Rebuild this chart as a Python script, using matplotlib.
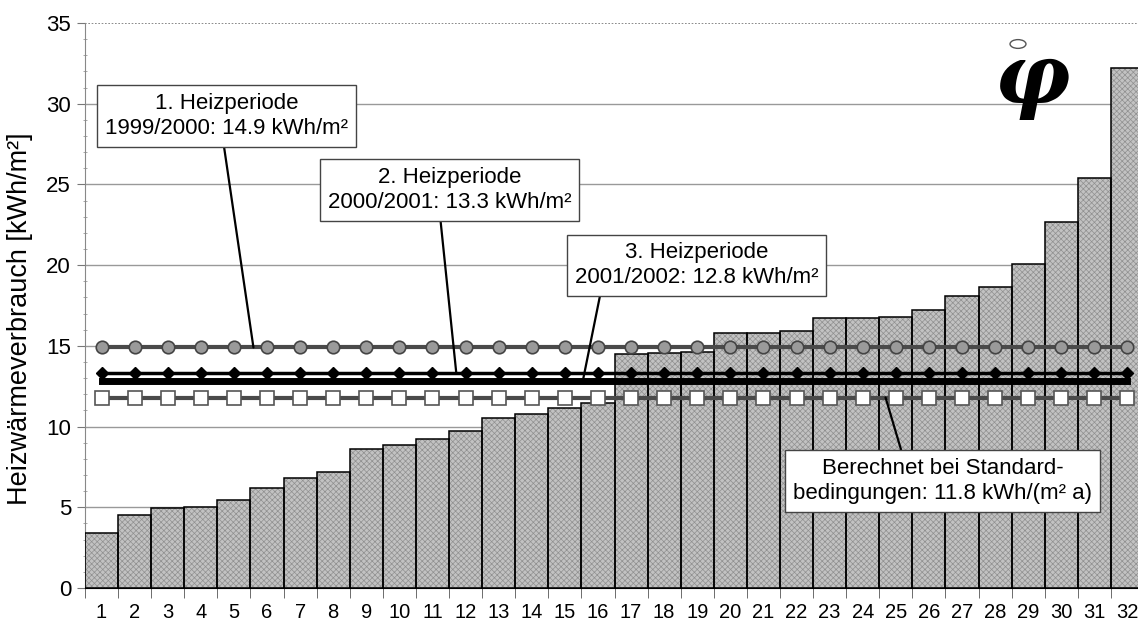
import matplotlib
matplotlib.use("Agg")
import matplotlib.pyplot as plt
from matplotlib.patches import Circle
import numpy as np

plt.rcParams['font.family'] = ['Liberation Sans', 'DejaVu Sans']
plt.rcParams['hatch.linewidth'] = 0.5

categories = list(range(1, 33))
consumption = [3.4, 4.5, 4.95, 5.0, 5.45, 6.2, 6.8, 7.2, 8.6, 8.85, 9.2, 9.7,
               10.55, 10.75, 11.15, 11.45, 14.5, 14.55, 14.6, 15.8, 15.8, 15.95,
               16.7, 16.7, 16.8, 17.2, 18.1, 18.65, 20.1, 22.65, 25.4, 32.2]
period1 = 14.9
period2 = 13.3
period3 = 12.8
standard = 11.8
y_label = "Heizwärmeverbrauch [kWh/m²]"
box_texts = ["1. Heizperiode\n1999/2000: 14.9 kWh/m²",
             "2. Heizperiode\n2000/2001: 13.3 kWh/m²",
             "3. Heizperiode\n2001/2002: 12.8 kWh/m²",
             "Berechnet bei Standard-\nbedingungen: 11.8 kWh/(m² a)"]

fig = plt.figure(figsize=(11.38, 6.25), dpi=100)
ax = fig.add_axes([85/1138, 37/625, (1144-85)/1138, 565/625])

x = np.array(categories)
# bars: textured fill then black outline
ax.bar(x, consumption, width=1.0, color='#c2c2c2', edgecolor='#909090',
       hatch='xxxxxx', linewidth=0, zorder=2)
ax.bar(x, consumption, width=1.0, fill=False, edgecolor='black', linewidth=1.1, zorder=3)

n = len(categories)
ax.plot(x, [period1]*n, color='#4a4a4a', lw=3, marker='o', ms=9,
        mfc='#9a9a9a', mec='#444444', mew=1.2, zorder=5)
ax.plot(x, [period2]*n, color='black', lw=2.5, marker='D', ms=6.5,
        mfc='black', mec='black', zorder=5)
ax.plot(x, [period3]*n, color='black', lw=5, zorder=5)
ax.plot(x, [standard]*n, color='#4a4a4a', lw=3, marker='s', ms=10,
        mfc='white', mec='#555555', mew=1.2, zorder=5)

ax.set_xlim(0.5, 32.5)
ax.set_ylim(0, 35)
ax.set_yticks(np.arange(0, 36, 5))
ax.set_yticks(np.arange(0, 36, 1), minor=True)
ax.set_xticks(x)
ax.set_xticklabels([str(c) for c in categories], fontsize=14.5)
ax.set_xticks(np.arange(0.5, 33, 1), minor=True)
ax.tick_params(axis='x', which='major', length=0, pad=11)
ax.tick_params(axis='x', which='minor', length=7, color='#555555')
ax.tick_params(axis='y', which='major', labelsize=16, length=6, color='#777777', pad=4)
ax.tick_params(axis='y', which='minor', length=3, color='#999999', direction='inout')

for v in range(5, 35, 5):
    ax.axhline(v, color='#999999', lw=1, zorder=1)
ax.axhline(35, color='#777777', lw=1.2, ls=(0, (1, 1)), zorder=1)

for s in ['right', 'top']:
    ax.spines[s].set_visible(False)
ax.spines['left'].set_color('#888888')
ax.spines['left'].set_linestyle((0, (1, 1)))
ax.spines['bottom'].set_color('black')
ax.spines['bottom'].set_zorder(4)

ax.set_ylabel(y_label, fontsize=19.5)
ax.yaxis.set_label_coords(-52/1059, 0.477)

def px2data(px, py):
    return ((px - 101) / 33.1 + 1, (588 - py) / 16.14)

bbox = dict(boxstyle='square,pad=0.35', fc='white', ec='#444444', lw=1)
annots = [
    (box_texts[0], px2data(226, 116), (5.59, period1), (0.485, 0)),
    (box_texts[1], px2data(449, 190), (11.72, period2), (0.46, 0)),
    (box_texts[2], px2data(696, 265.5), (15.54, period3), (0.11, 0)),
    (box_texts[3], px2data(942, 481), (24.69, standard), (0.37, 1)),
]
for txt, tpos, xy, rp in annots:
    ax.annotate(txt, xy=xy, xytext=tpos, ha='center', va='center', fontsize=16,
                linespacing=1.25, bbox=bbox, zorder=7,
                arrowprops=dict(arrowstyle='-', color='black', lw=1.6,
                                shrinkA=0, shrinkB=0, relpos=rp))

# logo
fig.text(1032/1138, 1 - 80/625, "φ", fontsize=60, fontweight='bold', fontstyle='italic',
         family='DejaVu Serif', ha='center', va='center', color='black')
fig.patches.append(Circle((1018/1138, 1 - 44/625), 0.007, transform=fig.transFigure,
                          fc='white', ec='#555555', lw=1))

fig.savefig("out.png", dpi=100)
